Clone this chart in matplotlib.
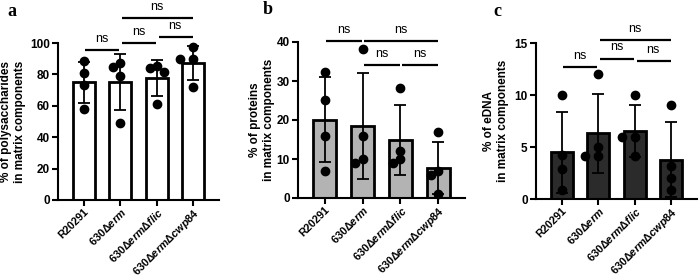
import numpy as np
import matplotlib
matplotlib.use("Agg")
import matplotlib.pyplot as plt

plt.rcParams["font.family"] = ["Liberation Sans", "DejaVu Sans"]
plt.rcParams["font.weight"] = "bold"
plt.rcParams["mathtext.fontset"] = "custom"
plt.rcParams["mathtext.rm"] = "Liberation Sans:bold"
plt.rcParams["mathtext.it"] = "Liberation Sans:italic"
plt.rcParams["mathtext.bf"] = "Liberation Sans:bold"

# strains, as shown under each panel
strains = ["R20291", "630Δerm", "630ΔermΔflic", "630ΔermΔcwp84"]
tickLabels = [
    "R20291",
    r"630$\mathit{Δerm}$",
    r"630$\mathit{ΔermΔflic}$",
    r"630$\mathit{ΔermΔcwp84}$",
]

# replicate values (% of matrix components)
polysaccharides = [
    [88.5, 81.0, 73.0, 58.0],
    [87.5, 84.5, 79.0, 49.0],
    [85.5, 84.0, 81.5, 61.0],
    [97.5, 90.0, 90.0, 72.0],
]
proteins = [
    [32.2, 25.2, 16.0, 7.0],
    [38.2, 16.0, 10.1, 9.1],
    [28.2, 12.0, 10.1, 9.1],
    [17.0, 7.0, 6.0, 1.0],
]
edna = [
    [10.0, 4.2, 2.9, 0.9],
    [12.0, 5.0, 4.1, 4.1],
    [10.0, 6.0, 6.0, 4.1],
    [9.0, 3.2, 2.0, 0.9],
]

# comparisons: (group i, group j, bracket height)
bracketsA = [(0, 1, 95.5), (1, 2, 100.0), (2, 3, 104.0), (1, 3, 116.0)]
bracketsB = [(0, 1, 40.2), (1, 3, 40.2), (1, 2, 34.0), (2, 3, 34.0)]
bracketsC = [(0, 1, 12.7), (1, 2, 13.5), (2, 3, 13.3), (1, 3, 15.3)]

panels = [
    dict(letter="a", data=polysaccharides, color="white", ymax=100, step=20,
         ylabel="% of polysaccharides\nin matrix components", brackets=bracketsA,
         rect=[58, 200, 161, 157], labelX=-0.2, letterXY=(12, 11)),
    dict(letter="b", data=proteins, color="#b3b3b3", ymax=40, step=10,
         ylabel="% of proteins\nin matrix components", brackets=bracketsB,
         rect=[298, 198, 167, 156], labelX=-0.14, letterXY=(268, 10)),
    dict(letter="c", data=edna, color="#2b2b2b", ymax=15, step=5,
         ylabel="% of eDNA\nin matrix components", brackets=bracketsC,
         rect=[536, 199, 161, 156], labelX=-0.17, letterXY=(497, 11)),
]

W, H = 700, 280
fig = plt.figure(figsize=(7, 2.8), dpi=100)


def spreadPoints(ax, values, center):
    # place dots so they don't overlap too much (greedy, top value first)
    x0, x1 = ax.get_xlim()
    y0, y1 = ax.get_ylim()
    bbox = ax.get_window_extent()
    pxX = bbox.width / (x1 - x0)
    pxY = bbox.height / (y1 - y0)
    placed = []
    for v in sorted(values, reverse=True):
        for off in [0, -0.19, 0.19, -0.36, 0.36]:
            ok = all(np.hypot((off - o) * pxX, (v - pv) * pxY) > 7 for o, pv in placed)
            if ok:
                placed.append((off, v))
                break
    return [center + o for o, _ in placed], [v for _, v in placed]


for p in panels:
    left, bottom, width, height = p["rect"]
    ax = fig.add_axes([left / W, 1 - bottom / H, width / W, height / H])
    x = np.arange(len(strains))
    means = [np.mean(v) for v in p["data"]]
    sds = [np.std(v, ddof=1) for v in p["data"]]

    ax.bar(x, means, width=0.6, color=p["color"], edgecolor="black", linewidth=2.0, zorder=2)
    ax.errorbar(x, means, yerr=sds, fmt="none", ecolor="black", elinewidth=1.3,
                capsize=4, capthick=1.3, zorder=3)

    ax.set_xlim(-0.7, 3.7)
    ax.set_ylim(0, p["ymax"])
    ax.set_yticks(np.arange(0, p["ymax"] + 1, p["step"]))
    ax.set_xticks(x)
    ax.set_xticklabels(tickLabels, rotation=45, ha="right", rotation_mode="anchor",
                       fontsize=7.8, fontweight="bold")
    ax.tick_params(axis="y", width=1.5, length=4, labelsize=8.5, pad=2)
    ax.tick_params(axis="x", width=1.5, length=4, pad=0.5)
    for s in ["top", "right"]:
        ax.spines[s].set_visible(False)
    for s in ["left", "bottom"]:
        ax.spines[s].set_linewidth(1.5)
    ax.set_ylabel(p["ylabel"], fontsize=8.5, fontweight="bold", linespacing=1.15)
    ax.yaxis.set_label_coords(p["labelX"], 0.5)

    for i, vals in enumerate(p["data"]):
        xs, ys = spreadPoints(ax, vals, i)
        ax.plot(xs, ys, "o", color="black", markersize=6, zorder=4, clip_on=False)

    for i, j, h in p["brackets"]:
        ax.plot([i + 0.05, j - 0.02], [h, h], color="black", linewidth=1.6,
                clip_on=False, solid_capstyle="butt")
        ax.annotate("ns", xy=((i + j) / 2, h), xytext=(0, 8), textcoords="offset points",
                    ha="center", va="center", fontsize=9, fontweight="normal",
                    annotation_clip=False)

    lx, ly = p["letterXY"]
    fig.text(lx / W, 1 - ly / H, p["letter"], fontsize=13, fontweight="bold",
             family="Liberation Serif", ha="center", va="center")

fig.savefig("out.png", dpi=100)
